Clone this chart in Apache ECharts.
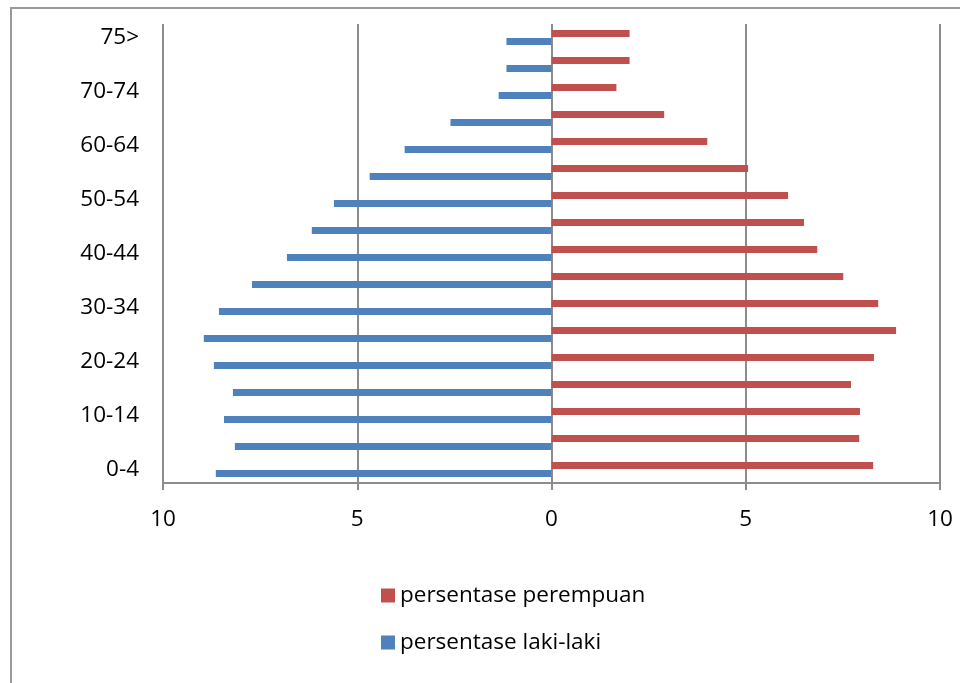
<!DOCTYPE html>
<html>
<head>
<meta charset="utf-8">
<script src="https://cdn.jsdelivr.net/npm/echarts@6/dist/echarts.min.js"></script>
<style>html,body{margin:0;padding:0;background:#fff}#c{width:960px;height:683px}</style>
</head>
<body>
<div id="c"></div>
<script>
const categories = ['0-4','5-9','10-14','15-19','20-24','25-29','30-34','35-39','40-44','45-49','50-54','55-59','60-64','65-69','70-74','75-79','75>'];
const perempuan = [8.28,7.92,7.94,7.71,8.30,8.87,8.41,7.51,6.84,6.50,6.09,5.06,4.01,2.90,1.67,2.01,2.01];
const lakilaki = [8.64,8.15,8.43,8.20,8.69,8.95,8.56,7.71,6.81,6.17,5.60,4.68,3.78,2.60,1.36,1.16,1.16];
const seriesNames = ['persentase perempuan','persentase laki-laki'];
const xTicks = [-10,-5,0,5,10];

const chart = echarts.init(document.getElementById('c'));
const font = '"Open Sans", sans-serif';
chart.setOption({
  animation: false,
  textStyle: {fontFamily: font},
  grid: {left: 163, right: 20, top: 24, bottom: 200},
  legend: {
    orient: 'vertical', left: 376, top: 579,
    itemWidth: 14, itemHeight: 14, itemGap: 24,
    icon: 'rect',
    data: seriesNames,
    textStyle: {fontSize: 22.5, fontFamily: font, color: '#000', lineHeight: 23}
  },
  xAxis: {
    type: 'value', min: xTicks[0], max: xTicks[xTicks.length-1], interval: 5,
    axisLine: {show: true, lineStyle: {color: '#8c8c8c', width: 2}},
    axisTick: {show: true, length: 7, lineStyle: {color: '#8c8c8c', width: 2}},
    splitLine: {show: true, lineStyle: {color: '#8c8c8c', width: 2}},
    axisLabel: {formatter: v => Math.abs(v), fontSize: 22.5, color: '#000', margin: 25, fontFamily: font}
  },
  yAxis: {
    type: 'category', data: categories,
    axisLine: {show: false}, axisTick: {show: false},
    axisLabel: {interval: 1, fontSize: 22.5, color: '#000', margin: 24, fontFamily: font, lineHeight: 27}
  },
  series: [
    {name: seriesNames[0], type: 'bar', data: perempuan, barWidth: 7, barGap: '14%', itemStyle: {color: '#C0504D'}},
    {name: seriesNames[1], type: 'bar', data: lakilaki.map(v => -v), barWidth: 7, barGap: '14%', itemStyle: {color: '#4F81BD'}}
  ],
  graphic: [
    {type: 'rect', shape: {x: 11, y: 8, width: 1000, height: 800}, style: {fill: 'none', stroke: '#9a9a9a', lineWidth: 2}, silent: true}
  ]
});
</script>
</body>
</html>
